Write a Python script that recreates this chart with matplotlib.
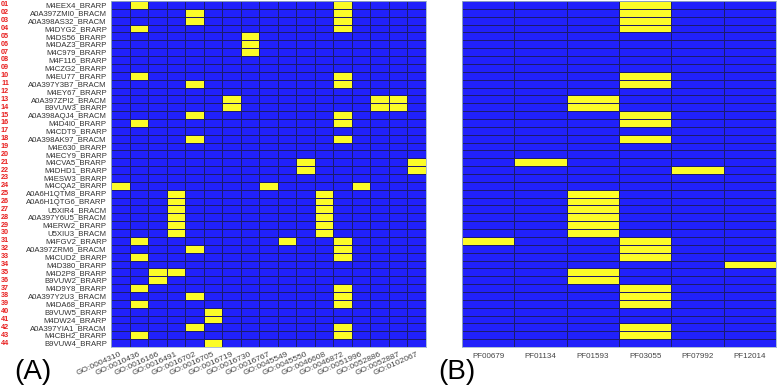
import numpy as np
import matplotlib
matplotlib.use('Agg')
import matplotlib.pyplot as plt
import matplotlib.transforms as mtransforms
from matplotlib.colors import ListedColormap

plt.rcParams['font.family'] = ['Liberation Sans', 'DejaVu Sans']

# protein names (rows, top to bottom)
proteins = ['M4EEX4_BRARP', 'A0A397ZMI0_BRACM', 'A0A398AS32_BRACM', 'M4DYG2_BRARP',
            'M4DS56_BRARP', 'M4DAZ3_BRARP', 'M4C979_BRARP', 'M4F116_BRARP',
            'M4CZG2_BRARP', 'M4EU77_BRARP', 'A0A397Y3B7_BRACM', 'M4EY67_BRARP',
            'A0A397ZPI2_BRACM', 'B9VUW3_BRARP', 'A0A398AQJ4_BRACM', 'M4D4I0_BRARP',
            'M4CDT9_BRARP', 'A0A398AK97_BRACM', 'M4E630_BRARP', 'M4ECY9_BRARP',
            'M4CVA5_BRARP', 'M4DHD1_BRARP', 'M4ESW3_BRARP', 'M4CQA2_BRARP',
            'A0A6H1QTM8_BRARP', 'A0A6H1QTG6_BRARP', 'U5XIR4_BRACM', 'A0A397Y6U5_BRACM',
            'M4ERW2_BRARP', 'U5XIU3_BRACM', 'M4FGV2_BRARP', 'A0A397ZRM6_BRACM',
            'M4CUD2_BRARP', 'M4D380_BRARP', 'M4D2P8_BRARP', 'B9VUW2_BRARP',
            'M4D9Y8_BRARP', 'A0A397Y2U3_BRACM', 'M4DA68_BRARP', 'B9VUW5_BRARP',
            'M4DW24_BRARP', 'A0A397YIA1_BRACM', 'M4CBH2_BRARP', 'B9VUW4_BRARP']

go_terms = ['GO:0004310', 'GO:0010436', 'GO:0016166', 'GO:0016491', 'GO:0016702',
            'GO:0016705', 'GO:0016719', 'GO:0016730', 'GO:0016767', 'GO:0045549',
            'GO:0045550', 'GO:0046608', 'GO:0046872', 'GO:0051996', 'GO:0052886',
            'GO:0052887', 'GO:0102067']

pfam_terms = ['PF00679', 'PF01134', 'PF01593', 'PF03055', 'PF07992', 'PF12014']

# column indices present for each protein
go_hits = [[1, 12], [4, 12], [4, 12], [1, 12], [7], [7], [7], [], [], [1, 12],
           [4, 12], [], [6, 14, 15], [6, 14, 15], [4, 12], [1, 12], [], [4, 12],
           [], [], [10, 16], [10, 16], [], [0, 8, 13], [3, 11], [3, 11], [3, 11],
           [3, 11], [3, 11], [3, 11], [1, 9, 12], [4, 12], [1, 12], [], [2, 3],
           [2], [1, 12], [4, 12], [1, 12], [5], [5], [4, 12], [1, 12], [5]]

pfam_hits = [[3], [3], [3], [3], [], [], [], [], [], [3],
             [3], [], [2], [2], [3], [3], [], [3],
             [], [], [1], [4], [], [], [2], [2], [2],
             [2], [2], [2], [0, 3], [3], [3], [5], [2],
             [2], [3], [3], [3], [], [], [3], [3], []]


def to_matrix(hits, ncol):
    m = np.zeros((len(hits), ncol))
    for i, cols in enumerate(hits):
        m[i, cols] = 1
    return m


go_mat = to_matrix(go_hits, len(go_terms))
pf_mat = to_matrix(pfam_hits, len(pfam_terms))

cmap = ListedColormap(['#2121fb', '#fcfc28'])

fig = plt.figure(figsize=(7.77, 3.86), dpi=100)
axA = fig.add_axes([111 / 777, 1 - 347 / 386, 315 / 777, 346 / 386])
axB = fig.add_axes([462 / 777, 1 - 347 / 386, 314 / 777, 346 / 386])

for ax, mat in [(axA, go_mat), (axB, pf_mat)]:
    ax.pcolormesh(mat, cmap=cmap, vmin=0, vmax=1, edgecolors='#1c1c6e', linewidth=0.55)
    ax.set_ylim(mat.shape[0], 0)
    ax.set_xlim(0, mat.shape[1])
    ax.tick_params(length=0)
    for s in ax.spines.values():
        s.set_color('#9fb4d0')
        s.set_linewidth(0.6)

# row labels on left heatmap
axA.set_yticks(np.arange(len(proteins)) + 0.5)
axA.set_yticklabels(proteins, fontsize=5.6, color='#333333')
axA.tick_params(axis='y', pad=3)
num_trans = mtransforms.blended_transform_factory(fig.transFigure, axA.transData)
for i in range(len(proteins)):
    axA.text(9 / 777, i + 0.5, f'{i + 1:02d}', transform=num_trans,
             ha='right', va='center', fontsize=5.2, color='#e82020', fontweight='bold')

axA.set_xticks(np.arange(len(go_terms)) + 0.5)
axA.set_xticklabels(go_terms, fontsize=6, color='#444444', rotation=24,
                    ha='right', rotation_mode='anchor')
axA.tick_params(axis='x', pad=3)

axB.set_yticks([])
axB.set_xticks(np.arange(len(pfam_terms)) + 0.5)
axB.set_xticklabels(pfam_terms, fontsize=5.8, color='#444444')
axB.tick_params(axis='x', pad=4)

fig.text(14 / 777, 1 - 372 / 386, '(A)', fontsize=20, va='center', ha='left')
fig.text(438 / 777, 1 - 372 / 386, '(B)', fontsize=20, va='center', ha='left')

fig.savefig('out.png', dpi=100)
